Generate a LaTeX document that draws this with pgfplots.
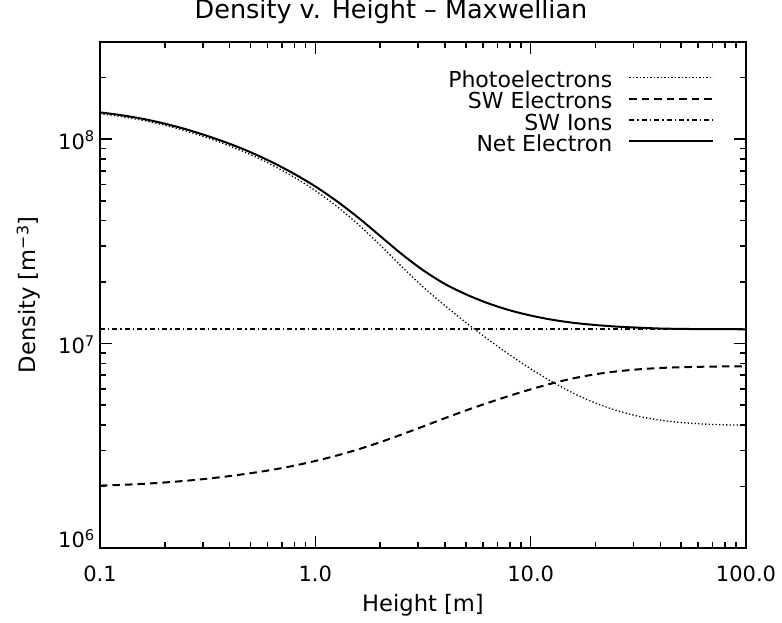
\documentclass[border=0pt]{standalone}
\usepackage{fontspec}
\setmainfont{DejaVu Sans}
\usepackage{pgfplots}
\pgfplotsset{compat=1.18}
\usepackage{pgfplotstable}

% Density profiles (m^-3) versus height above the surface (m)
\pgfplotstableread{
h       photo      swe        net
0.1     1.3328e8   2.020e6    1.353e8
0.1259  1.2896e8   2.036e6    1.310e8
0.1585  1.2364e8   2.060e6    1.257e8
0.1995  1.1711e8   2.092e6    1.192e8
0.2512  1.0967e8   2.133e6    1.118e8
0.3162  1.0142e8   2.184e6    1.036e8
0.3981  9.290e7    2.247e6    9.515e7
0.5012  8.394e7    2.323e6    8.626e7
0.6310  7.467e7    2.413e6    7.708e7
0.7943  6.533e7    2.525e6    6.786e7
1.0     5.606e7    2.665e6    5.873e7
1.259   4.690e7    2.834e6    4.973e7
1.585   3.824e7    3.040e6    4.128e7
1.995   3.041e7    3.289e6    3.370e7
2.512   2.388e7    3.589e6    2.747e7
3.162   1.895e7    3.930e6    2.288e7
3.981   1.540e7    4.310e6    1.963e7
5.012   1.266e7    4.711e6    1.741e7
6.310   1.054e7    5.123e6    1.578e7
7.943   8.845e6    5.546e6    1.458e7
10.0    7.527e6    5.973e6    1.372e7
12.59   6.495e6    6.390e6    1.308e7
15.85   5.709e6    6.767e6    1.263e7
19.95   5.123e6    7.078e6    1.233e7
25.12   4.705e6    7.313e6    1.211e7
31.62   4.413e6    7.483e6    1.197e7
39.81   4.224e6    7.596e6    1.185e7
50.12   4.108e6    7.666e6    1.180e7
63.10   4.042e6    7.705e6    1.177e7
79.43   4.005e6    7.730e6    1.176e7
100.0   3.991e6    7.745e6    1.175e7
}\densitytable

\pgfplotstableread{
h     ions
0.1   1.175e7
100   1.175e7
}\iontable

\begin{document}
\fontsize{21}{25}\selectfont
\begin{tikzpicture}
\useasboundingbox (0pt,0pt) rectangle (782pt,622pt);
\begin{axis}[
  at={(100pt,74pt)}, anchor=south west,
  scale only axis, width=646pt, height=506.3pt,
  xmode=log, ymode=log,
  xmin=0.1, xmax=100, ymin=1e6, ymax=3e8,
  axis line style={line width=2pt, black},
  tick align=inside,
  major tick length=12pt, minor tick length=6pt,
  every tick/.style={black, line width=1.6pt},
  xtick={0.1,1,10,100},
  xticklabels={0.1,1.0,10.0,100.0},
  minor xtick={0.2,0.3,0.4,0.5,0.6,0.7,0.8,0.9,2,3,4,5,6,7,8,9,20,30,40,50,60,70,80,90},
  ytick={1e6,1e7,1e8},
  yticklabels={\raisebox{10pt}{10\textsuperscript{6}},10\textsuperscript{7},10\textsuperscript{8}},
  minor ytick={2e6,3e6,4e6,5e6,6e6,7e6,8e6,9e6,2e7,3e7,4e7,5e7,6e7,7e7,8e7,9e7,2e8,3e8},
  xticklabel style={anchor=base, inner sep=0pt, yshift=-33.7pt, font=\fontsize{21}{21}\selectfont},
  yticklabel style={anchor=base east, inner sep=0pt, xshift=-5pt, yshift=-10pt, font=\fontsize{21}{21}\selectfont},
  title={Density v. Height -- Maxwellian},
  title style={at={(axis description cs:0.4505,1)}, anchor=base, inner sep=0pt, yshift=16.7pt, font=\fontsize{25.5}{30}\selectfont},
  xlabel={Height [m]},
  xlabel style={at={(axis description cs:0.5,0)}, anchor=base, inner sep=0pt, yshift=-64pt, font=\fontsize{22.6}{26}\selectfont},
  ylabel={Density [m\textsuperscript{−3}]},
  ylabel style={at={(axis description cs:-0.0991,0.5)}, anchor=base, inner sep=0pt, rotate=0, font=\fontsize{22.6}{26}\selectfont},
  legend plot pos=right,
  legend cell align=right,
  legend image code/.code={\draw[#1] (0pt,2pt) -- (84pt,2pt);},
  legend style={draw=none, fill=none, at={(rel axis cs:0.956,0.946)}, anchor=north east,
    font=\fontsize{22}{22}\selectfont, row sep=5.4pt, column sep=16pt,
    nodes={inner sep=0pt, text height=16pt, text depth=0pt}},
]
\addplot[black, line width=1.3pt, dash pattern=on 1.3pt off 2.2pt, smooth] table[x=h, y=photo] {\densitytable};
\addlegendentry{Photoelectrons}
\addplot[black, line width=2pt, dash pattern=on 7.5pt off 5pt, smooth] table[x=h, y=swe] {\densitytable};
\addlegendentry{SW Electrons}
\addplot[black, line width=1.8pt, dash pattern=on 5pt off 3pt on 1.5pt off 3pt] table[x=h, y=ions] {\iontable};
\addlegendentry{SW Ions}
\addplot[black, line width=2pt, smooth] table[x=h, y=net] {\densitytable};
\addlegendentry{Net Electron}
\end{axis}
\end{tikzpicture}
\end{document}
